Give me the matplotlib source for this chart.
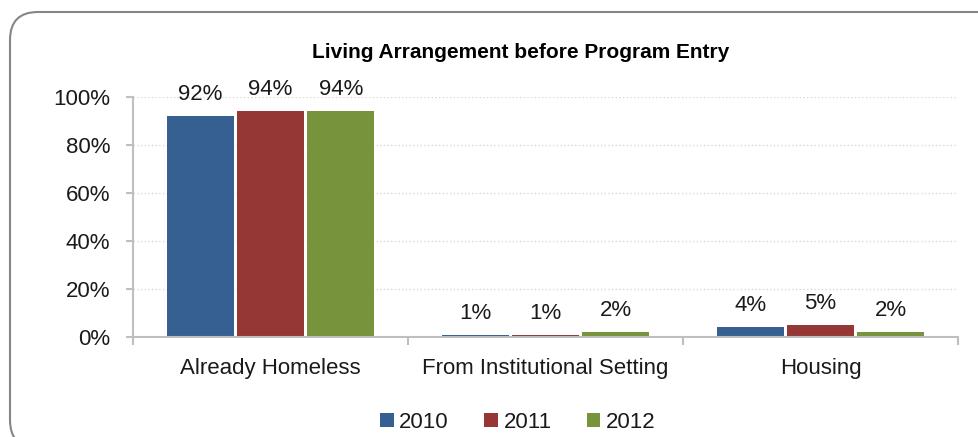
import matplotlib
matplotlib.use("Agg")
import matplotlib.pyplot as plt
from matplotlib.patches import FancyBboxPatch
from matplotlib.transforms import IdentityTransform
from matplotlib.ticker import FixedLocator, PercentFormatter
import numpy as np

categories = ["Already Homeless", "From Institutional Setting", "Housing"]
years = ["2010", "2011", "2012"]
share_2010 = [92, 1, 4]
share_2011 = [94, 1, 5]
share_2012 = [94, 2, 2]
colors = ["#376092", "#953735", "#77933C"]

plt.rcParams["font.family"] = ["Liberation Sans", "DejaVu Sans"]
TEXT = "#1a1a1a"
AXIS = "#bfbfbf"


def main():
    fig = plt.figure(figsize=(9.79, 4.37), dpi=100)
    ax = fig.add_axes([133 / 979, 100 / 437, 825 / 979, 240 / 437])

    # rounded chart border, in pixel coordinates
    frame = FancyBboxPatch((10, -11), 1018, 436,
                           boxstyle="round,pad=0,rounding_size=28",
                           transform=IdentityTransform(),
                           facecolor="none", edgecolor="#868686",
                           linewidth=1.5, clip_on=False)
    fig.add_artist(frame)

    x = np.arange(len(categories))
    step = 0.256
    width = 0.244
    series = [share_2010, share_2011, share_2012]
    handles = []
    for i, (vals, year, col) in enumerate(zip(series, years, colors)):
        pos = x + (i - 1) * step
        h = [v / 100 for v in vals]
        bars = ax.bar(pos, h, width=width, color=col, label=year, zorder=3)
        handles.append(bars)
        for px, v in zip(pos, vals):
            ax.annotate(f"{v}%", (px, v / 100), xytext=(0, 11.5),
                        textcoords="offset points", ha="center",
                        va="baseline", fontsize=16, color=TEXT)

    ax.set_xlim(-0.5, 2.5)
    ax.set_ylim(0, 1)
    ax.yaxis.set_major_locator(FixedLocator([0, 0.2, 0.4, 0.6, 0.8, 1.0]))
    ax.yaxis.set_major_formatter(PercentFormatter(1.0, decimals=0))
    ax.grid(axis="y", color="#d9d9d9", linestyle=":", linewidth=1, zorder=0)

    # boundary ticks between categories, labels at the centres
    ax.set_xticks([-0.5, 0.5, 1.5, 2.5])
    ax.set_xticklabels([])
    ax.set_xticks(x, minor=True)
    ax.set_xticklabels(categories, minor=True)
    ax.tick_params(axis="x", which="major", length=5.5, width=1.5,
                   color=AXIS, direction="out")
    ax.tick_params(axis="x", which="minor", length=0, pad=15,
                   labelsize=16, labelcolor=TEXT)
    ax.tick_params(axis="y", length=5, width=1.5, color=AXIS, pad=11.5,
                   labelsize=16, labelcolor=TEXT)

    for side in ("top", "right"):
        ax.spines[side].set_visible(False)
    for side in ("left", "bottom"):
        ax.spines[side].set_color(AXIS)
        ax.spines[side].set_linewidth(1.5)
        ax.spines[side].set_zorder(4)

    fig.text(312 / 979, 1 - 58 / 437, "Living Arrangement before Program Entry",
             ha="left", va="baseline", fontsize=15, fontweight="bold",
             color="black")

    fig.legend(handles, years, loc="center",
               bbox_to_anchor=(518 / 979, 1 - 422 / 437),
               ncol=3, frameon=False, fontsize=16,
               handlelength=0.6, handleheight=0.6, handletextpad=0.25,
               columnspacing=1.6, labelcolor=TEXT)

    fig.savefig("out.png", dpi=100, facecolor="white")


if __name__ == "__main__":
    main()
